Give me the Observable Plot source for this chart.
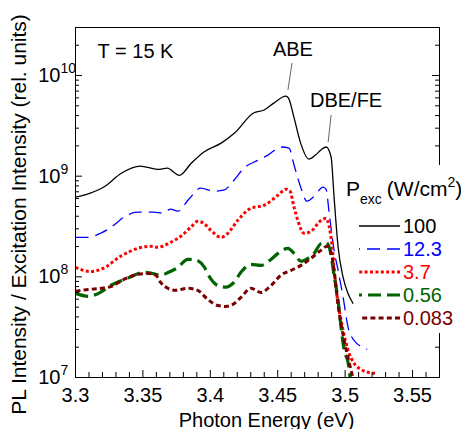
<!DOCTYPE html>
<html>
<head>
<meta charset="utf-8">
<script src="https://cdn.jsdelivr.net/npm/d3@7"></script>
<script src="https://cdn.jsdelivr.net/npm/@observablehq/plot@0.6"></script>
<style>
  html, body { margin: 0; padding: 0; background: white; }
  #chart { width: 461px; height: 429px; overflow: hidden; }
</style>
</head>
<body>
<div id="chart"></div>
<script>
// ---- data ----
const series = ["100", "12.3", "3.7", "0.56", "0.083"];
const colors = ["#000000", "#0000ff", "#ff0000", "#006400", "#7a0000"];

const e100 = [3.300,3.311,3.321,3.334,3.348,3.361,3.368,3.377,3.386,3.395,3.408,3.418,3.432,3.440,3.447,3.456,3.458,3.462,3.467,3.473,3.478,3.482,3.486,3.4896,3.4918,3.4948,3.4985,3.502,3.506];
const i100 = [6.2e8,6.8e8,7.8e8,1.07e9,1.26e9,1.17e9,1.2e9,1.02e9,1.35e9,1.73e9,2.13e9,2.68e9,4.24e9,4.54e9,5.32e9,6.25e9,5.97e9,3.86e9,2.13e9,1.48e9,1.62e9,1.82e9,1.95e9,1.55e9,6.2e8,1.97e8,9.9e7,6.9e7,5.4e7];

const e12 = [3.300,3.3089,3.3186,3.3283,3.3357,3.3461,3.3580,3.3647,3.3706,3.3758,3.3840,3.3929,3.4026,3.4100,3.4175,3.4249,3.4353,3.4428,3.4524,3.4584,3.4621,3.4673,3.4717,3.4770,3.4836,3.4859,3.4881,3.4918,3.4948,3.4985,3.5022,3.5067,3.5119,3.5164];
const i12 = [2.47e8,2.47e8,2.71e8,3.25e8,3.91e8,4.39e8,4.39e8,4.29e8,4.7e8,4.49e8,5.9e8,7.6e8,7.1e8,7.26e8,9.1e8,1.2e9,1.44e9,1.62e9,1.95e9,1.9e9,1.29e9,7.6e8,5.64e8,6.3e8,7.8e8,7.4e8,4.39e8,1.84e8,1.16e8,6.25e7,3.15e7,2.33e7,2.03e7,1.9e7];

const e37 = [3.300,3.3112,3.3208,3.3335,3.3461,3.3558,3.3610,3.3706,3.3781,3.3855,3.3907,3.3952,3.4004,3.4078,3.4130,3.4204,3.4301,3.4398,3.4502,3.4561,3.4591,3.4621,3.4651,3.4695,3.4747,3.4822,3.4859,3.4881,3.4903,3.4926,3.4948,3.4985,3.5022,3.5067,3.5119,3.5178,3.5238];
const i37 = [1.24e8,1.13e8,1.22e8,1.6e8,1.92e8,2.01e8,1.97e8,2.2e8,2.53e8,3.11e8,3.56e8,3.4e8,2.9e8,2.47e8,2.71e8,3.65e8,4.81e8,5.14e8,6.47e8,7.43e8,7.1e8,4.92e8,3.56e8,2.71e8,2.84e8,3.65e8,3.82e8,3.18e8,2.06e8,9.2e7,5.45e7,2.94e7,1.86e7,1.38e7,1.2e7,1.12e7,1.1e7];

const e056 = [3.300,3.3097,3.3171,3.3260,3.3342,3.3416,3.3506,3.3572,3.3632,3.3691,3.3758,3.3833,3.3877,3.3952,3.3996,3.4056,3.4115,3.4175,3.4227,3.4301,3.4375,3.4450,3.4502,3.4576,3.4621,3.4673,3.4725,3.4770,3.4822,3.4859,3.4888,3.4918,3.4948,3.4970,3.4993,3.5022,3.5037];
const i056 = [6.85e7,6.4e7,6.85e7,8.2e7,9.2e7,1.01e8,1.11e8,1.08e8,1.04e8,1.11e8,1.24e8,1.49e8,1.49e8,1.27e8,9.9e7,8.2e7,7.9e7,8.8e7,1.11e8,1.33e8,1.3e8,1.49e8,1.71e8,1.92e8,1.71e8,1.43e8,1.53e8,1.71e8,2.15e8,2.2e8,1.84e8,1.04e8,5.8e7,3.15e7,1.86e7,1.41e7,1.0e7];

const e083 = [3.300,3.3097,3.3193,3.3268,3.3357,3.3461,3.3543,3.3595,3.3632,3.3684,3.3743,3.3833,3.3907,3.3981,3.4056,3.4115,3.4167,3.4227,3.4301,3.4375,3.4450,3.4524,3.4599,3.4673,3.4747,3.4822,3.4866,3.4896,3.4918,3.4948,3.4993,3.5030,3.5059];
const i083 = [7.2e7,7.5e7,7.7e7,8.05e7,9.4e7,1.06e8,1.08e8,1.04e8,8.8e7,7.7e7,7.35e7,7.7e7,7.35e7,5.97e7,5.2e7,5.08e7,5.32e7,6.25e7,7.7e7,7.0e7,8.2e7,1.04e8,1.16e8,1.3e8,1.53e8,1.84e8,2.01e8,1.75e8,1.16e8,5.2e7,2.33e7,1.41e7,9.8e6];

const xMajor = [3.3, 3.35, 3.4, 3.45, 3.5, 3.55];
const xMinor = d3.range(331, 357).filter(v => v % 5 !== 0).map(v => v / 100);
const yMajor = [1e7, 1e8, 1e9, 1e10];
const yMinor = [1e7, 1e8, 1e9, 1e10].flatMap(d => [2,3,4,5,6,7,8,9].map(m => m * d)).filter(v => v < 2.9e10);

const tempLabel = [{text: "T = 15 K", x: 3.3164, y: 1.71e10}];
const peakLabels = [
  {text: "ABE", x: 3.4613, y: 1.8e10},
  {text: "DBE/FE", x: 3.5007, y: 5.7e9}
];
const leaders = [
  {x1: 3.4606, y1: 1.33e10, x2: 3.4576, y2: 7.2e9},
  {x1: 3.4896, y1: 4.05e9, x2: 3.4874, y2: 2.18e9}
];
const xTitle = "Photon Energy (eV)";
const yTitle = "PL Intensity / Excitation Intensity (rel. units)";

// ---- build table ----
const energies = [e100, e12, e37, e056, e083];
const intens = [i100, i12, i37, i056, i083];
const rows = series.flatMap((s, k) => energies[k].map((e, j) => ({s, e, v: intens[k][j]})));

const styles = {
  "100":   {strokeWidth: 1.3, dash: null},
  "12.3":  {strokeWidth: 1.3, dash: "13,7"},
  "3.7":   {strokeWidth: 3, dash: "3,2.4"},
  "0.56":  {strokeWidth: 3.2, dash: "13,6"},
  "0.083": {strokeWidth: 3, dash: "5,3.2"}
};

const FONT = "Arial, 'Liberation Sans', sans-serif";
const W = 461, H = 429, mL = 75, mR = 22, mT = 27, mB = 52;
const fw = W - mL - mR, fh = H - mT - mB;

const lineMarks = series.map((s, k) => Plot.line(rows.filter(r => r.s === s), {
  x: "e", y: "v", stroke: colors[k], strokeWidth: styles[s].strokeWidth,
  strokeDasharray: styles[s].dash, strokeLinecap: "butt",
  curve: "monotone-x", clip: true
}));

const svg = Plot.plot({
  width: W, height: H,
  marginLeft: mL, marginRight: mR, marginTop: mT, marginBottom: mB,
  style: {fontFamily: FONT, fontSize: "20px", color: "black", background: "white"},
  x: {domain: [3.3, 3.57]},
  y: {type: "log", domain: [1e7, 3e10], axis: null},
  marks: [
    ...lineMarks,
    Plot.frame({stroke: "black", strokeWidth: 1}),
    Plot.tickX(xMinor, {x: d => d, insetTop: fh - 5, stroke: "black"}),
    Plot.tickX(xMajor, {x: d => d, insetTop: fh - 7, stroke: "black"}),
    Plot.tickY(yMinor, {y: d => d, insetRight: fw - 4, stroke: "black"}),
    Plot.tickY(yMajor, {y: d => d, insetRight: fw - 7, stroke: "black"}),
    Plot.tickY(yMinor, {y: d => d, insetLeft: fw - 4, stroke: "black"}),
    Plot.tickY(yMajor, {y: d => d, insetLeft: fw - 7, stroke: "black"}),
    Plot.axisX({ticks: xMajor, tickSize: 0, tickPadding: 10, tickFormat: d => String(d), label: null, fontSize: 20}),
    Plot.text(yMajor, {y: d => d, frameAnchor: "left", text: () => "10", textAnchor: "end", dx: -15, dy: 0, fontSize: 20}),
    Plot.text(yMajor, {y: d => d, frameAnchor: "left", text: d => String(Math.round(Math.log10(d))), textAnchor: "start", dx: -15, dy: -7, fontSize: 14}),
    Plot.text([xTitle], {frameAnchor: "bottom", text: d => d, textAnchor: "middle", dx: 9, dy: 35, lineAnchor: "top", fontSize: 20}),
    Plot.text([yTitle], {frameAnchor: "left", text: d => d, textAnchor: "middle", rotate: -90, dx: -56, dy: 12, fontSize: 21}),
    Plot.link(leaders, {x1: "x1", y1: "y1", x2: "x2", y2: "y2", stroke: "#555", strokeWidth: 0.9}),
    Plot.text(tempLabel, {x: "x", y: "y", text: "text", textAnchor: "start", fontSize: 20}),
    Plot.text(peakLabels, {x: "x", y: "y", text: "text", textAnchor: "middle", fontSize: 20})
  ]
});

// ---- legend (drawn over the plot in pixel space) ----
const g = d3.select(svg).append("g")
  .attr("font-family", FONT).attr("text-anchor", "start");
g.append("rect").attr("x", 429).attr("y", 165).attr("width", 16).attr("height", 168).attr("fill", "white");
const title = g.append("text").attr("x", 346).attr("y", 196).attr("font-size", 21).attr("fill", "black");
title.append("tspan").text("P");
title.append("tspan").attr("font-size", 14).attr("dy", 8).text("exc");
title.append("tspan").attr("dx", 5).attr("dy", -8).text("(W/cm");
title.append("tspan").attr("font-size", 14).attr("dy", -9).text("2");
title.append("tspan").attr("dy", 9).text(")");
series.forEach((s, k) => {
  const base = 233 + k * 23;
  g.append("line").attr("x1", 400).attr("x2", 359).attr("y1", base - 7).attr("y2", base - 7)
    .attr("stroke", colors[k]).attr("stroke-width", styles[s].strokeWidth)
    .attr("stroke-dasharray", styles[s].dash);
  g.append("text").attr("x", 403).attr("y", base).attr("font-size", 20)
    .attr("fill", colors[k]).text(s);
});

document.getElementById("chart").appendChild(svg);
</script>
</body>
</html>
